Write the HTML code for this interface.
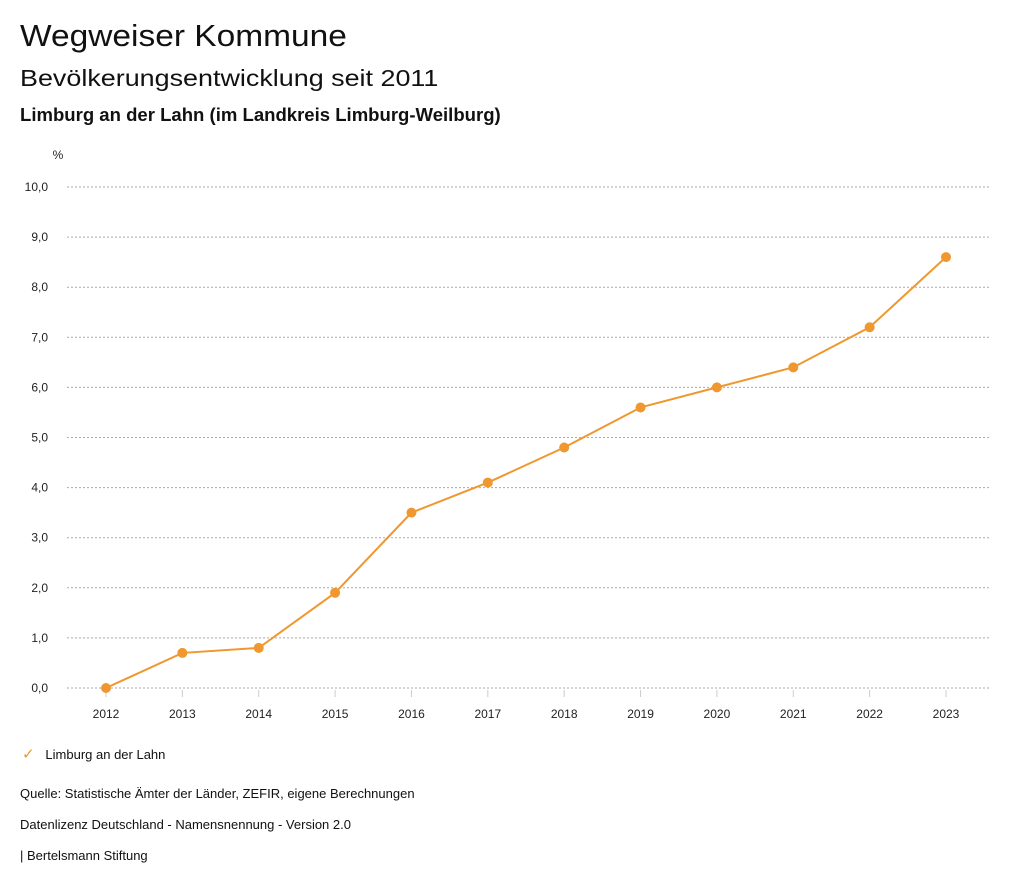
<!DOCTYPE html>
<html><head><meta charset="utf-8"><style>
body{margin:0;background:#fff;width:1024px;height:888px;overflow:hidden;font-family:"Liberation Sans",sans-serif;color:#111}
.t{position:absolute;white-space:nowrap;transform-origin:0 0}
</style></head><body>
<div class="t" style="left:20px;top:18px;font-size:31px;transform:scaleX(1.08)">Wegweiser Kommune</div>
<div class="t" style="left:20px;top:65px;font-size:23px;transform:scaleX(1.17)">Bevölkerungsentwicklung seit 2011</div>
<div class="t" style="left:20px;top:105px;font-size:18px;font-weight:bold;transform:scaleX(1.03)">Limburg an der Lahn (im Landkreis Limburg-Weilburg)</div>
<svg id="chart" width="1024" height="888" style="position:absolute;left:0;top:0" font-family="Liberation Sans, sans-serif"></svg>
<div class="t" style="left:22px;top:745px;font-size:13px"><span style="color:#f0972f;font-size:15px">✓</span>&nbsp;&nbsp;&nbsp;Limburg an der Lahn</div>
<div class="t" style="left:20px;top:786px;font-size:13px">Quelle: Statistische Ämter der Länder, ZEFIR, eigene Berechnungen</div>
<div class="t" style="left:20px;top:817px;font-size:13px">Datenlizenz Deutschland - Namensnennung - Version 2.0</div>
<div class="t" style="left:20px;top:848px;font-size:13px">| Bertelsmann Stiftung</div>
<script>
const years=["2012","2013","2014","2015","2016","2017","2018","2019","2020","2021","2022","2023"];
const values=[0,0.7,0.8,1.9,3.5,4.1,4.8,5.6,6.0,6.4,7.2,8.6];
const yTicks=[0,1,2,3,4,5,6,7,8,9,10];
const yTickLabels=["0,0","1,0","2,0","3,0","4,0","5,0","6,0","7,0","8,0","9,0","10,0"];
const svg=document.getElementById('chart');const NS="http://www.w3.org/2000/svg";
const x0=106,x1=946,yBase=688,yTop=187;
const xs=i=>x0+(x1-x0)*i/(years.length-1);
const ys=v=>yBase-(yBase-yTop)*v/10;
function mk(t,a){const e=document.createElementNS(NS,t);for(const k in a)e.setAttribute(k,a[k]);svg.appendChild(e);return e;}
yTicks.forEach((v,i)=>{
 const g=mk('line',{x1:67,x2:990,y1:ys(v),y2:ys(v),stroke:'#aaa','stroke-dasharray':'2,2','stroke-width':1});
 
 
 const t=mk('text',{x:48,y:ys(v)+4,'text-anchor':'end','font-size':12,fill:'#222'});t.textContent=yTickLabels[i];
 
 
});
const u=mk('text',{x:58,y:159,'text-anchor':'middle','font-size':12,fill:'#222'});u.textContent='%';


years.forEach((y,i)=>{
 const tk=mk('line',{x1:xs(i),x2:xs(i),y1:690,y2:697,stroke:'#ccc'});
 
 
 const t=mk('text',{x:xs(i),y:718,'text-anchor':'middle','font-size':12,fill:'#222'});t.textContent=y;
 
 
});
const p=mk('polyline',{points:values.map((v,i)=>xs(i)+','+ys(v)).join(' '),fill:'none',stroke:'#f0972f','stroke-width':2});


values.forEach((v,i)=>{
 const c=mk('circle',{cx:xs(i),cy:ys(v),r:5,fill:'#f0972f'});
 
 
});
</script>
</body></html>
